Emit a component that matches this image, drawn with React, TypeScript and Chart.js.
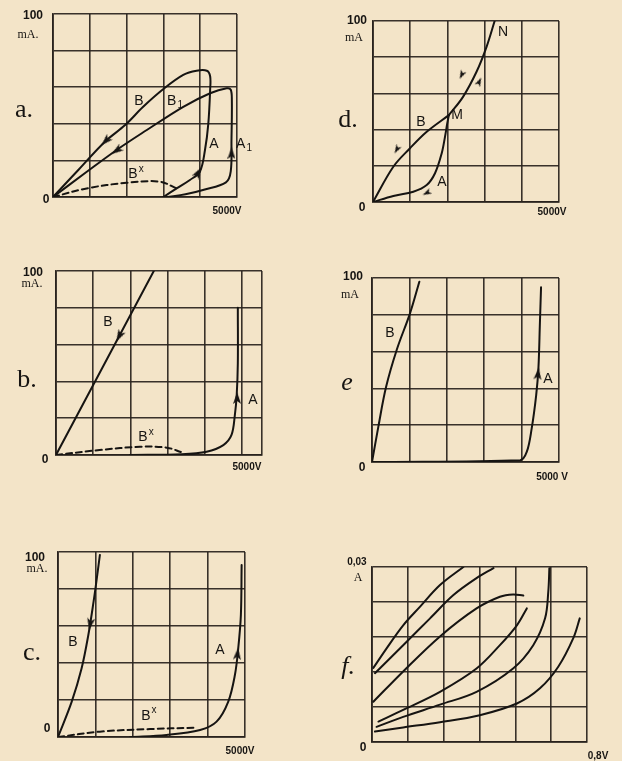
import React, { useEffect, useRef } from "react";
import { Chart, registerables } from "chart.js";
Chart.register(...registerables);

// ---------- axis ticks ----------
const VOLT_TICKS = [0, 1000, 2000, 3000, 4000, 5000];
const VOLT_TICKS_B = [0, 1000, 2000, 3000, 4000, 5000, 5540];
const MA_TICKS = [0, 20, 40, 60, 80, 100];
const F_VOLT_TICKS = [0, 0.1333, 0.2667, 0.4, 0.5333, 0.6667, 0.8];
const F_AMP_TICKS = [0, 0.006, 0.012, 0.018, 0.024, 0.03];

type P = [number, number];

// ---------- panel a (V, mA) ----------
const aLoopAB: P[] = [
  [3000, 0], [3360, 4.7], [3720, 9.3], [3990, 13.8], [4130, 25.7], [4220, 40], [4270, 58.5],
  [4270, 66], [4180, 69], [3900, 69], [3540, 66.7], [3000, 59], [2450, 49.3], [1960, 39.3],
  [1410, 30.2], [700, 15], [0, 0],
];
const aLoopA1B1: P[] = [
  [3100, 0], [3600, 1.5], [4100, 4], [4700, 8], [4830, 14], [4850, 31], [4860, 53],
  [4830, 58.6], [4720, 59.4], [4270, 56.7], [3540, 49.3], [2550, 36.6], [1730, 25.7],
  [900, 13.5], [0, 0],
];
const aBx: P[] = [[0, 0], [915, 4.7], [2000, 7.8], [2900, 8.4], [3360, 4.7]];
const aArrows: P[] = [[1430, 30.6], [1730, 25.4], [3950, 13.4], [4850, 24]];
const aArrowRot = [225, 235, 30, 0];

// ---------- panel d ----------
const dA: P[] = [
  [0, 0], [546, 3.3], [1083, 5.7], [1444, 9.4], [1667, 15.9], [1847, 26.9], [1935, 36],
  [1997, 43.5], [2040, 48],
];
const dB: P[] = [[0, 0], [546, 19.5], [995, 29.7], [1444, 38.8], [2040, 48]];
const dMN: P[] = [[2040, 48], [2420, 58.1], [2780, 71.8], [3050, 85.6], [3270, 100]];
const dArrows: P[] = [[640, 29], [1444, 5], [2384, 70.2], [2857, 66.5]];
const dArrowRot = [210, 243, 206, 26];

// ---------- panel b ----------
const bB: P[] = [[0, 0], [2630, 100]];
const bBx: P[] = [[0, 0], [1170, 2.7], [2260, 4.5], [2980, 4], [3380, 1.5]];
const bA: P[] = [
  [1990, 0], [3380, 0.4], [4050, 1.8], [4500, 5.4], [4720, 10.9], [4810, 21.7], [4860, 32.6],
  [4890, 50], [4890, 80],
];
const bArrows: P[] = [[1700, 64.6], [4870, 31]];
const bArrowRot = [208, 0];

// ---------- panel e ----------
const eB: P[] = [[0, 0], [170, 19.2], [374, 40.6], [660, 60.9], [1016, 80.8], [1266, 98]];
const eA: P[] = [
  [0, 0], [3960, 1], [4140, 5.6], [4270, 18.3], [4390, 36.4], [4450, 51], [4490, 76], [4520, 95],
];
const eArrows: P[] = [[4440, 48]];
const eArrowRot = [6];

// ---------- panel c ----------
const cB: P[] = [[0, 0], [365, 19], [630, 37], [810, 55], [950, 73], [1050, 87.6], [1120, 98.4]];
const cBx: P[] = [[0, 0], [1120, 2.9], [2460, 4.3], [3620, 5]];
const cA: P[] = [
  [1930, 0], [2900, 1.1], [3800, 3.8], [4240, 8.3], [4550, 19], [4730, 33.5], [4820, 48],
  [4890, 66], [4910, 93],
];
const cArrows: P[] = [[860, 61], [4800, 45]];
const cArrowRot = [190, 5];

// ---------- panel f (V, A) ----------
const f1: P[] = [[0.005, 0.0127], [0.055, 0.0161], [0.116, 0.02], [0.179, 0.0232], [0.253, 0.0269], [0.34, 0.03]];
const f2: P[] = [[0.011, 0.0118], [0.116, 0.0166], [0.216, 0.0212], [0.303, 0.0252], [0.389, 0.0281], [0.452, 0.0298]];
const f3: P[] = [[0.005, 0.0069], [0.116, 0.0121], [0.253, 0.0181], [0.389, 0.0229], [0.476, 0.0249], [0.525, 0.0253], [0.563, 0.0251]];
const f4: P[] = [[0.024, 0.0035], [0.116, 0.0055], [0.253, 0.0086], [0.389, 0.0126], [0.476, 0.0166], [0.539, 0.02], [0.576, 0.0229]];
const f5: P[] = [[0.017, 0.0026], [0.116, 0.0043], [0.253, 0.0064], [0.389, 0.0086], [0.525, 0.0126], [0.6, 0.0166], [0.644, 0.0212], [0.656, 0.0258], [0.66, 0.0298]];
const f6: P[] = [[0.011, 0.0018], [0.116, 0.0025], [0.253, 0.0034], [0.401, 0.0046], [0.539, 0.0066], [0.625, 0.0092], [0.693, 0.0129], [0.749, 0.0178], [0.773, 0.0212]];

// ---------- styles ----------
const INK = "#161412";
const GRID = "rgba(40,34,28,0.92)";
const BG = "#f3e4c8";
const FONTS: Record<string, string> = {
  num: "bold 12px 'Liberation Sans', sans-serif",
  unit: "12px 'Liberation Serif', serif",
  end: "bold 10px 'Liberation Sans', sans-serif",
  panel: "26px 'Liberation Serif', serif",
  panelI: "italic 26px 'Liberation Serif', serif",
  curve: "14px 'Liberation Sans', sans-serif",
};
const SMALL = "10px 'Liberation Sans', sans-serif";

type Label = { t: string; x: number; y: number; f: string; sub?: string; sup?: string };

// arrowhead glyph pointing up (rotated per point by Chart.js)
const arrowHead = (w: number, h: number) => {
  const c = document.createElement("canvas");
  c.width = w;
  c.height = h;
  const g = c.getContext("2d") as CanvasRenderingContext2D;
  g.fillStyle = INK;
  g.beginPath();
  g.moveTo(w / 2, 0);
  g.lineTo(w, h);
  g.lineTo(w / 2, h * 0.75);
  g.lineTo(0, h);
  g.closePath();
  g.fill();
  return c;
};

const curve = (pts: P[], dashed = false) => ({
  data: pts.map(([x, y]) => ({ x, y })),
  borderColor: INK,
  borderWidth: 2,
  pointRadius: 0,
  tension: 0.35,
  fill: false,
  borderDash: dashed ? [6, 4] : [],
  borderCapStyle: "round",
});
const arrows = (pts: P[], rot: number[], small = false) => ({
  data: pts.map(([x, y]) => ({ x, y })),
  showLine: false,
  pointStyle: small ? ["s"] : ["n"], // replaced with canvases at mount
  _small: small,
  pointRadius: 5,
  pointRotation: rot,
  pointBackgroundColor: INK,
  pointBorderColor: INK,
  pointBorderWidth: 0,
});

type Spec = {
  left: number; top: number; w: number; h: number;
  pad: { left: number; top: number; right: number; bottom: number };
  xMax: number; yMax: number; xTicks: number[]; yTicks: number[];
  datasets: any[]; labels: Label[];
};

const PANELS: Spec[] = [
  {
    left: 0, top: 0, w: 311, h: 235, pad: { left: 53, top: 14, right: 74, bottom: 38 },
    xMax: 5000, yMax: 100, xTicks: VOLT_TICKS, yTicks: MA_TICKS,
    datasets: [curve(aLoopAB), curve(aLoopA1B1), curve(aBx, true), arrows(aArrows, aArrowRot)],
    labels: [
      { t: "100", x: -543, y: 98.9, f: "num" },
      { t: "mA.", x: -680, y: 88.5, f: "unit" },
      { t: "a.", x: -788, y: 47.5, f: "panel" },
      { t: "0", x: -190, y: -1.6, f: "num" },
      { t: "5000V", x: 4728, y: -7.7, f: "end" },
      { t: "B", x: 2337, y: 52.5, f: "curve" },
      { t: "B", sub: "1", x: 3315, y: 52.5, f: "curve" },
      { t: "A", x: 4375, y: 29, f: "curve" },
      { t: "A", sub: "1", x: 5190, y: 29, f: "curve" },
      { t: "B", sup: "x", x: 2255, y: 12.6, f: "curve" },
    ],
  },
  {
    left: 311, top: 0, w: 311, h: 235, pad: { left: 62, top: 21, right: 63, bottom: 33 },
    xMax: 5000, yMax: 100, xTicks: VOLT_TICKS, yTicks: MA_TICKS,
    datasets: [curve(dA), curve(dB), curve(dMN), arrows(dArrows, dArrowRot, true)],
    labels: [
      { t: "100", x: -430, y: 100, f: "num" },
      { t: "mA", x: -510, y: 90.6, f: "unit" },
      { t: "d.", x: -670, y: 45.3, f: "panel" },
      { t: "0", x: -296, y: -3.3, f: "num" },
      { t: "5000V", x: 4812, y: -5.5, f: "end" },
      { t: "N", x: 3495, y: 93.9, f: "curve" },
      { t: "M", x: 2258, y: 48, f: "curve" },
      { t: "B", x: 1290, y: 44.2, f: "curve" },
      { t: "A", x: 1855, y: 11, f: "curve" },
    ],
  },
  {
    left: 0, top: 235, w: 311, h: 280, pad: { left: 56, top: 36, right: 49, bottom: 60 },
    xMax: 5540, yMax: 100, xTicks: VOLT_TICKS_B, yTicks: MA_TICKS,
    datasets: [curve(bB), curve(bBx, true), curve(bA), arrows(bArrows, bArrowRot)],
    labels: [
      { t: "100", x: -618, y: 98.9, f: "num" },
      { t: "mA.", x: -645, y: 93, f: "unit" },
      { t: "b.", x: -780, y: 40.8, f: "panel" },
      { t: "0", x: -296, y: -2.7, f: "num" },
      { t: "5000V", x: 5134, y: -6.5, f: "end" },
      { t: "B", x: 1398, y: 72.3, f: "curve" },
      { t: "A", x: 5295, y: 29.9, f: "curve" },
      { t: "B", sup: "x", x: 2420, y: 9.8, f: "curve" },
    ],
  },
  {
    left: 311, top: 235, w: 311, h: 280, pad: { left: 61, top: 43, right: 63, bottom: 53 },
    xMax: 5000, yMax: 100, xTicks: VOLT_TICKS, yTicks: MA_TICKS,
    datasets: [curve(eB), curve(eA), arrows(eArrows, eArrowRot)],
    labels: [
      { t: "100", x: -508, y: 100.5, f: "num" },
      { t: "mA", x: -588, y: 90.8, f: "unit" },
      { t: "e", x: -668, y: 42.9, f: "panelI" },
      { t: "0", x: -267, y: -3.3, f: "num" },
      { t: "5000 V", x: 4813, y: -8.2, f: "end" },
      { t: "B", x: 481, y: 70.1, f: "curve" },
      { t: "A", x: 4706, y: 45.1, f: "curve" },
    ],
  },
  {
    left: 0, top: 515, w: 311, h: 246, pad: { left: 58, top: 37, right: 66, bottom: 24 },
    xMax: 5000, yMax: 100, xTicks: VOLT_TICKS, yTicks: MA_TICKS,
    datasets: [curve(cB), curve(cBx, true), curve(cA), arrows(cArrows, cArrowRot)],
    labels: [
      { t: "100", x: -615, y: 96.8, f: "num" },
      { t: "mA.", x: -561, y: 90.8, f: "unit" },
      { t: "c.", x: -695, y: 45.4, f: "panel" },
      { t: "0", x: -294, y: 4.5, f: "num" },
      { t: "5000V", x: 4866, y: -7.6, f: "end" },
      { t: "B", x: 400, y: 51.4, f: "curve" },
      { t: "A", x: 4331, y: 47, f: "curve" },
      { t: "B", sup: "x", x: 2430, y: 11.5, f: "curve" },
    ],
  },
  {
    left: 311, top: 515, w: 311, h: 246, pad: { left: 61, top: 52, right: 35, bottom: 19 },
    xMax: 0.8, yMax: 0.03, xTicks: F_VOLT_TICKS, yTicks: F_AMP_TICKS,
    datasets: [curve(f1), curve(f2), curve(f3), curve(f4), curve(f5), curve(f6)],
    labels: [
      { t: "0,03", x: -0.056, y: 0.0309, f: "end" },
      { t: "A", x: -0.052, y: 0.0281, f: "unit" },
      { t: "f.", x: -0.089, y: 0.0129, f: "panelI" },
      { t: "0", x: -0.033, y: -0.0009, f: "num" },
      { t: "0,8V", x: 0.841, y: -0.0024, f: "end" },
    ],
  },
];

const makeLabelPlugin = (labels: Label[]) => ({
  id: "panelLabels",
  afterDraw(chart: any) {
    const { ctx } = chart;
    const xs = chart.scales.x;
    const ys = chart.scales.y;
    ctx.save();
    ctx.fillStyle = INK;
    ctx.textBaseline = "middle";
    ctx.textAlign = "left";
    for (const l of labels) {
      const px = xs.getPixelForValue(l.x);
      const py = ys.getPixelForValue(l.y);
      ctx.font = FONTS[l.f];
      const w = ctx.measureText(l.t).width;
      const extra = l.sub || l.sup || "";
      let ew = 0;
      if (extra) {
        ctx.font = SMALL;
        ew = ctx.measureText(extra).width + 1;
      }
      const x0 = px - (w + ew) / 2;
      ctx.font = FONTS[l.f];
      ctx.fillText(l.t, x0, py);
      if (extra) {
        ctx.font = SMALL;
        ctx.fillText(extra, x0 + w + 1, l.sub ? py + 4 : py - 5);
      }
    }
    ctx.restore();
  },
});

function Panel({ p }: { p: Spec }) {
  const ref = useRef<HTMLCanvasElement>(null);
  useEffect(() => {
    const big = arrowHead(8, 12);
    const small = arrowHead(6, 9);
    const datasets = p.datasets.map((d) =>
      d.showLine === false ? { ...d, pointStyle: d._small ? small : big } : d
    );
    const scale = (max: number, ticks: number[]) => ({
      type: "linear",
      min: 0,
      max,
      afterBuildTicks: (s: any) => {
        s.ticks = ticks.map((value) => ({ value }));
      },
      ticks: { display: false },
      grid: { color: GRID, lineWidth: 1.6, drawTicks: false, tickLength: 0 },
      border: { display: true, color: GRID, width: 1.8 },
    });
    const chart = new Chart(ref.current as HTMLCanvasElement, {
      type: "line",
      data: { datasets },
      options: {
        animation: false,
        responsive: false,
        devicePixelRatio: 1,
        events: [],
        layout: { padding: p.pad },
        scales: { x: scale(p.xMax, p.xTicks), y: scale(p.yMax, p.yTicks) } as any,
        plugins: { legend: { display: false }, tooltip: { enabled: false } },
      } as any,
      plugins: [makeLabelPlugin(p.labels)],
    });
    return () => chart.destroy();
  }, [p]);
  return (
    <canvas
      ref={ref}
      width={p.w}
      height={p.h}
      style={{ position: "absolute", left: p.left, top: p.top, width: p.w, height: p.h }}
    />
  );
}

export default function App() {
  return (
    <div
      style={{
        position: "absolute",
        left: 0,
        top: 0,
        width: 622,
        height: 761,
        background: BG,
        overflow: "hidden",
      }}
    >
      {PANELS.map((p, i) => (
        <Panel key={i} p={p} />
      ))}
    </div>
  );
}
